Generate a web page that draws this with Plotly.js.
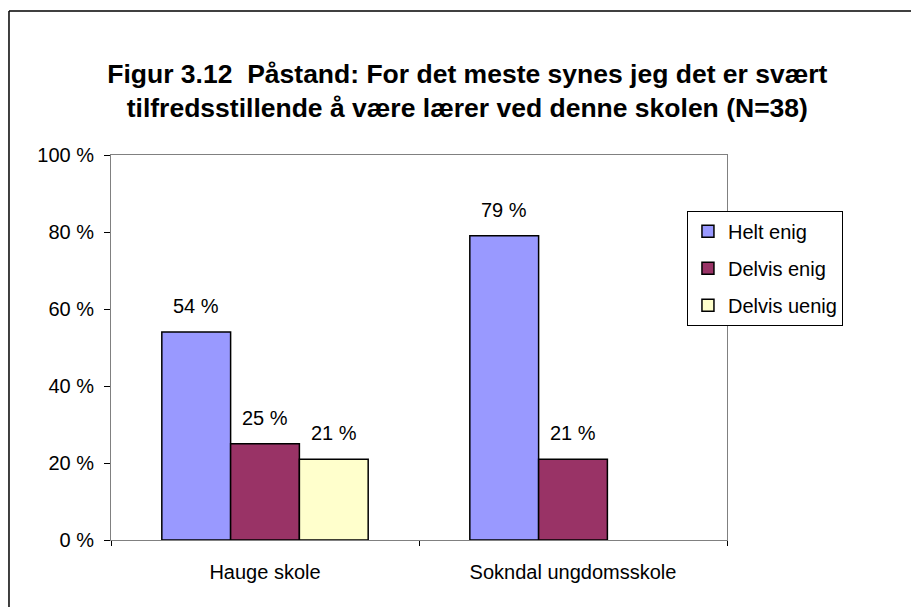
<!DOCTYPE html>
<html>
<head>
<meta charset="utf-8">
<script src="https://cdn.plot.ly/plotly-3.0.1.min.js"></script>
<style>
  html, body { margin: 0; padding: 0; background: #fff; overflow: hidden; }
  #chart { width: 911px; height: 607px; }
</style>
</head>
<body>
<div id="chart"></div>
<script>
var categories = ['Hauge skole', 'Sokndal ungdomsskole'];
var seriesNames = ['Helt enig', 'Delvis enig', 'Delvis uenig'];
var heltEnig = [54, 79];
var delvisEnig = [25, 21];
var delvisUenig = [21, null];
var seriesColors = ['#9999ff', '#993366', '#ffffcc'];
var yTicks = [0, 20, 40, 60, 80, 100];
var yTickText = ['0 %', '20 %', '40 %', '60 %', '80 %', '100 %'];

var seriesValues = [heltEnig, delvisEnig, delvisUenig];

var data = seriesValues.map(function (vals, i) {
  return {
    type: 'bar',
    name: seriesNames[i],
    x: categories,
    y: vals,
    legendgroup: 'g' + i,
    marker: {color: seriesColors[i], line: {color: '#000', width: 1.5}},
    hoverinfo: 'none'
  };
});

// labels above the bars, shifted to each bar's slot in the group
var barPx = 69;
var annotations = [];
seriesValues.forEach(function (vals, i) {
  vals.forEach(function (v, j) {
    if (v === null) return;
    annotations.push({
      x: categories[j], y: v, xref: 'x', yref: 'y',
      text: v + ' %', showarrow: false,
      xshift: (i - 1) * barPx, yshift: 26,
      font: {size: 20, color: '#000'}
    });
  });
});

var layout = {
  width: 911,
  height: 607,
  paper_bgcolor: '#fff',
  plot_bgcolor: '#fff',
  font: {family: 'Liberation Sans, Arial, sans-serif', size: 20, color: '#000'},
  margin: {l: 111, r: 184, t: 155, b: 67},
  title: {
    text: '<b>Figur 3.12\u00a0 Påstand: For det meste synes jeg det er svært<br>tilfredsstillende å være lærer ved denne skolen (N=38)</b>',
    font: {size: 26.5, color: '#000'},
    x: 0.513, xref: 'container', xanchor: 'center',
    y: 0.864, yref: 'container', yanchor: 'middle'
  },
  barmode: 'group',
  bargap: 0.33,
  bargroupgap: 0,
  showlegend: true,
  legend: {
    x: 0.935, y: 0.855, xanchor: 'left', yanchor: 'top',
    bordercolor: '#000', borderwidth: 1, bgcolor: '#fff',
    traceorder: 'grouped', tracegroupgap: 8,
    itemwidth: 30,
    font: {size: 20}
  },
  xaxis: {
    type: 'category',
    showline: true, linecolor: '#808080', linewidth: 1, mirror: true,
    ticks: 'outside', tickson: 'boundaries', ticklen: 5, tickcolor: '#000',
    ticklabelstandoff: 14,
    showgrid: false, fixedrange: true
  },
  yaxis: {
    range: [0, 100],
    tickvals: yTicks, ticktext: yTickText,
    showline: true, linecolor: '#808080', linewidth: 1, mirror: true,
    ticks: 'outside', ticklen: 6, tickcolor: '#000',
    ticklabelstandoff: 6,
    showgrid: false, zeroline: false, fixedrange: true
  },
  annotations: annotations,
  shapes: [
    {type: 'line', xref: 'paper', yref: 'paper', x0: -0.1656, x1: 1.2987, y0: 1.374, y1: 1.374,
     line: {color: '#000', width: 1.5}},
    {type: 'line', xref: 'paper', yref: 'paper', x0: -0.1656, x1: -0.1656, y0: -0.174, y1: 1.374,
     line: {color: '#000', width: 1.5}}
  ]
};

Plotly.newPlot('chart', data, layout, {staticPlot: true});
</script>
</body>
</html>
